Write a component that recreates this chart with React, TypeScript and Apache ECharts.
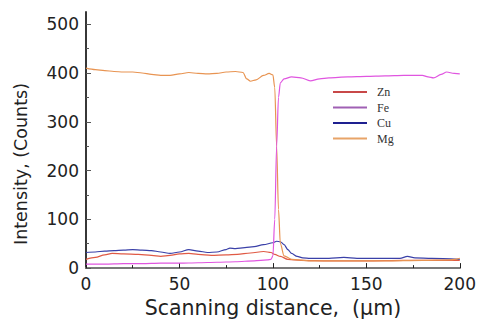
import React, { useEffect, useRef } from "react";
import * as echarts from "echarts";

const seriesNames = ["Zn", "Fe", "Cu", "Mg"];
const lineColors = ["#e05a45", "#e056e0", "#3a40a8", "#e89452"];
const legendColors = ["#c84848", "#a060b4", "#1e2090", "#e8a468"];

const znData: [number, number][] = [
  [0, 18], [5, 22], [10, 27], [14, 30], [20, 29], [28, 28], [35, 26], [40, 24], [45, 26],
  [50, 29], [55, 30], [60, 28], [67, 26], [75, 27], [81, 28], [88, 31], [95, 34], [99, 32],
  [101, 28], [104, 24], [108, 18], [115, 16], [130, 15], [150, 15], [170, 16], [200, 16],
];

const feData: [number, number][] = [
  [0, 8], [10, 8], [20, 9], [30, 9], [40, 10], [50, 10], [60, 11], [70, 12], [80, 13],
  [90, 15], [97, 17], [99, 18], [100, 25], [101, 100], [102, 250], [103, 350], [104, 380],
  [106, 388], [110, 392], [115, 390], [120, 384], [125, 388], [130, 390], [140, 392],
  [150, 393], [160, 394], [170, 395], [180, 395], [183, 392], [186, 390], [190, 397],
  [193, 402], [197, 399], [200, 398],
];

const cuData: [number, number][] = [
  [0, 32], [5, 33], [10, 35], [15, 36], [20, 37], [25, 38], [30, 37], [35, 36], [40, 33],
  [45, 30], [50, 33], [55, 38], [60, 35], [65, 32], [70, 33], [75, 38], [77, 41], [80, 40],
  [85, 42], [90, 44], [95, 48], [100, 52], [102, 55], [104, 54], [106, 48], [108, 38],
  [110, 30], [113, 24], [116, 21], [120, 20], [130, 20], [138, 22], [145, 20], [160, 20],
  [168, 20], [172, 24], [176, 21], [185, 20], [200, 18],
];

const mgData: [number, number][] = [
  [0, 410], [5, 407], [10, 405], [15, 403], [20, 402], [25, 402], [30, 400], [35, 397],
  [40, 395], [45, 395], [50, 398], [55, 401], [60, 399], [65, 398], [70, 399], [75, 402],
  [80, 403], [84, 401], [86, 388], [88, 383], [91, 386], [95, 395], [98, 399], [100, 396],
  [101, 370], [102, 250], [103, 120], [104, 50], [106, 25], [110, 18], [120, 15], [140, 15],
  [160, 15], [180, 16], [195, 17], [200, 20],
];

const allData = [znData, feData, cuData, mgData];
const yMajorTicks = [0, 100, 200, 300, 400, 500];
const yMinorTicks = [50, 150, 250, 350, 450];

export default function App() {
  const ref = useRef<HTMLDivElement>(null);
  useEffect(() => {
    if (!ref.current) return;
    const chart = echarts.init(ref.current, undefined, { renderer: "svg" });
    const labelFont = "DejaVu Sans";
    chart.setOption({
      animation: false,
      backgroundColor: "#ffffff",
      grid: { left: 86, right: 14, top: 12, bottom: 49 },
      legend: {
        orient: "vertical",
        left: 333,
        top: 86,
        padding: 0,
        itemGap: 3.5,
        itemWidth: 34,
        itemHeight: 2,
        icon: "rect",
        textStyle: {
          fontFamily: "Liberation Serif",
          fontSize: 12,
          lineHeight: 12,
          color: "#333",
          padding: [0, 0, 0, 5],
        },
        data: seriesNames.map((n, i) => ({ name: n, itemStyle: { color: legendColors[i] } })),
      },
      xAxis: [
        {
          type: "value",
          min: 0,
          max: 200,
          interval: 50,
          position: "bottom",
          axisLine: { lineStyle: { color: "#222", width: 1.5 } },
          axisTick: { inside: true, length: 5, lineStyle: { color: "#222" } },
          minorTick: { show: true, splitNumber: 2, length: 3, lineStyle: { color: "#222" } },
          splitLine: { show: false },
          axisLabel: { fontFamily: labelFont, fontSize: 17, color: "#222", margin: 7 },
          name: "Scanning distance,  (μm)",
          nameLocation: "middle",
          nameGap: 17,
          nameTextStyle: { fontFamily: labelFont, fontSize: 20.5, color: "#222" },
        },
        {
          type: "value",
          min: 0,
          max: 200,
          position: "top",
          axisLine: { lineStyle: { color: "#7a7a7a", width: 2 } },
          axisTick: { show: false },
          axisLabel: { show: false },
          splitLine: { show: false },
        },
      ],
      yAxis: [
        {
          type: "value",
          min: 0,
          max: 525,
          interval: 100,
          position: "left",
          axisLine: { lineStyle: { color: "#7a7a7a", width: 2 } },
          axisTick: { inside: true, length: 5, customValues: yMajorTicks, lineStyle: { color: "#555" } },
          axisLabel: {
            customValues: yMajorTicks,
            fontFamily: labelFont,
            fontSize: 17,
            color: "#222",
            margin: 7,
          },
          splitLine: { show: false },
        },
        {
          type: "value",
          min: 0,
          max: 525,
          position: "right",
          axisLine: { lineStyle: { color: "#222", width: 1.5 } },
          axisTick: { show: false },
          axisLabel: { show: false },
          splitLine: { show: false },
        },
        {
          type: "value",
          min: 0,
          max: 525,
          position: "left",
          axisLine: { show: false },
          axisTick: { inside: true, length: 3, customValues: yMinorTicks, lineStyle: { color: "#555" } },
          axisLabel: { show: false },
          splitLine: { show: false },
        },
      ],
      graphic: [
        {
          type: "text",
          x: 21,
          y: 164,
          rotation: Math.PI / 2,
          style: {
            text: "Intensity, (Counts)",
            fontFamily: labelFont,
            fontSize: 17.5,
            fill: "#222",
            align: "center",
            verticalAlign: "middle",
          },
        },
      ],
      series: seriesNames.map((n, i) => ({
        name: n,
        type: "line",
        xAxisIndex: 0,
        yAxisIndex: 0,
        data: allData[i],
        showSymbol: false,
        smooth: 0.3,
        smoothMonotone: "x",
        lineStyle: { color: lineColors[i], width: 1.2 },
        itemStyle: { color: lineColors[i] },
        z: i === 1 ? 3 : 2,
      })),
    });
    return () => chart.dispose();
  }, []);
  return <div ref={ref} style={{ width: 479, height: 323, position: "absolute", left: 0, top: 0 }} />;
}
